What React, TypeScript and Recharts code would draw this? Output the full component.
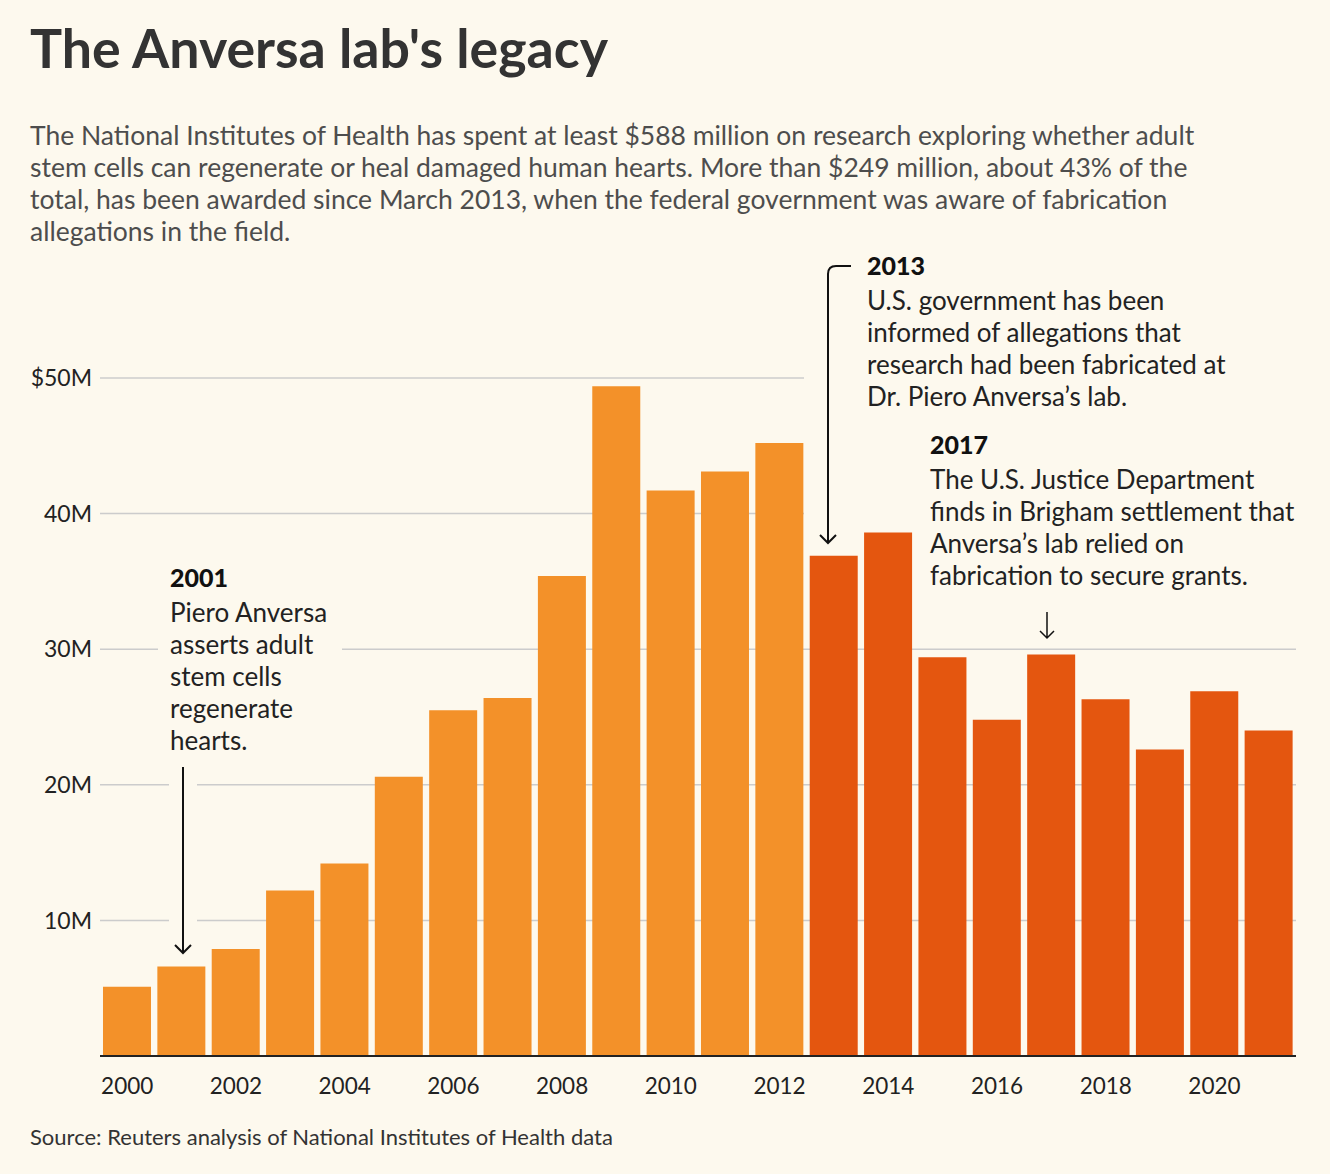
import { BarChart, Bar, XAxis, YAxis, CartesianGrid, Cell } from "recharts";

const BG = "#fdf9ee";
const EARLY_COLOR = "#f39129";
const LATE_COLOR = "#e4560f";
const FONT = "Lato, 'Noto Sans', sans-serif";

// NIH funding per fiscal year, $ millions
const years = [
  "2000", "2001", "2002", "2003", "2004", "2005", "2006", "2007", "2008", "2009", "2010",
  "2011", "2012", "2013", "2014", "2015", "2016", "2017", "2018", "2019", "2020", "2021",
];
const fundingMillions = [
  5.1, 6.6, 7.9, 12.2, 14.2, 20.6, 25.5, 26.4, 35.4, 49.4, 41.7,
  43.1, 45.2, 36.9, 38.6, 29.4, 24.8, 29.6, 26.3, 22.6, 26.9, 24.0,
];
const yTicks = [0, 10, 20, 30, 40, 50];
const ALLEGATIONS_YEAR = 2013;

const subtitleLines = [
  "The National Institutes of Health has spent at least $588 million on research exploring whether adult",
  "stem cells can regenerate or heal damaged human hearts. More than $249 million, about 43% of the",
  "total, has been awarded since March 2013, when the federal government was aware of fabrication",
  "allegations in the field.",
];
const note2001 = ["Piero Anversa", "asserts adult", "stem cells", "regenerate", "hearts."];
const note2013 = [
  "U.S. government has been",
  "informed of allegations that",
  "research had been fabricated at",
  "Dr. Piero Anversa\u2019s lab.",
];
const note2017 = [
  "The U.S. Justice Department",
  "finds in Brigham settlement that",
  "Anversa\u2019s lab relied on",
  "fabrication to secure grants.",
];

const chartData = years.map((year, i) => ({ year, value: fundingMillions[i] }));

function formatMillions(v: number) {
  if (v === 0) return "";
  return v === 50 ? `$${v}M` : `${v}M`;
}

function Note({ x, y, year, lines }: { x: number; y: number; year: string; lines: string[] }) {
  return (
    <g>
      <text x={x} y={y} fontSize={25} fontWeight={900} fill="#111">
        {year}
      </text>
      {lines.map((line, i) => (
        <text key={i} x={x} y={y + 35 + i * 32} fontSize={26} fill="#222">
          {line}
        </text>
      ))}
    </g>
  );
}

export default function App() {
  return (
    <div
      style={{
        position: "absolute",
        left: 0,
        top: 0,
        width: 1330,
        height: 1174,
        background: BG,
        fontFamily: FONT,
      }}
    >
      <BarChart
        width={1330}
        height={1174}
        data={chartData}
        margin={{ top: 378, right: 34, bottom: 0, left: 0 }}
        barCategoryGap="5.5%"
        style={{ position: "absolute", left: 0, top: 0 }}
      >
        <CartesianGrid vertical={false} stroke="#cccccc" strokeWidth={1.5} />
        <XAxis
          dataKey="year"
          interval={1}
          height={118}
          tickLine={false}
          tickSize={0}
          tickMargin={22}
          axisLine={{ stroke: "#222", strokeWidth: 2 }}
          tick={{ fill: "#222", fontSize: 22.5, fontFamily: FONT }}
        />
        <YAxis
          width={100}
          domain={[0, 50]}
          ticks={yTicks}
          tickFormatter={formatMillions}
          axisLine={false}
          tickLine={false}
          tickSize={0}
          tickMargin={8}
          tick={{ fill: "#222", fontSize: 23, fontFamily: FONT }}
        />
        <Bar dataKey="value" isAnimationActive={false}>
          {chartData.map((d) => (
            <Cell
              key={d.year}
              fill={Number(d.year) >= ALLEGATIONS_YEAR ? LATE_COLOR : EARLY_COLOR}
            />
          ))}
        </Bar>
      </BarChart>

      <svg
        width={1330}
        height={1174}
        style={{ position: "absolute", left: 0, top: 0, pointerEvents: "none" }}
        fontFamily={FONT}
      >
        <text
          x={30}
          y={68}
          fontSize={54}
          fontWeight={700}
          fill="#333"
          textLength={578}
          lengthAdjust="spacingAndGlyphs"
        >
          The Anversa lab's legacy
        </text>
        {subtitleLines.map((line, i) => (
          <text key={i} x={30} y={145 + i * 32} fontSize={26.5} fill="#4d4d4d">
            {line}
          </text>
        ))}

        {/* halos that cut the gridlines behind the notes */}
        <rect x={158} y={563} width={184} height={194} fill={BG} />
        <rect x={169} y={760} width={28} height={195} fill={BG} />
        <rect x={804} y={248} width={500} height={277} fill={BG} />

        <Note x={170} y={587} year="2001" lines={note2001} />
        <Note x={867} y={275} year="2013" lines={note2013} />
        <Note x={930} y={454} year="2017" lines={note2017} />

        <g stroke="#111" strokeWidth={2} fill="none">
          <path d="M183 767 V953 M175 945 L183 953 L191 945" />
          <path d="M851 266 H836 Q828 266 828 274 V543 M820 535 L828 543 L836 535" />
          <path d="M1047 612 V638 M1040 631 L1047 638 L1054 631" strokeWidth={1.5} />
        </g>

        <text x={30} y={1145} fontSize={22} fill="#333">
          Source: Reuters analysis of National Institutes of Health data
        </text>
      </svg>
    </div>
  );
}
